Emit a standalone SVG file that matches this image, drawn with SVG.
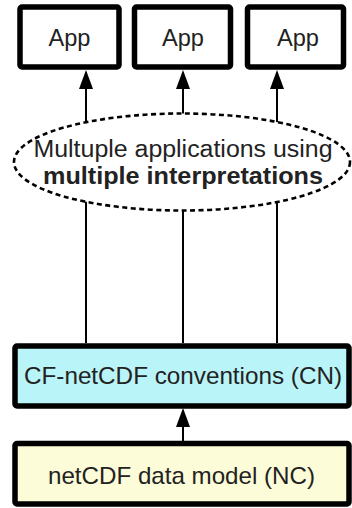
<svg xmlns="http://www.w3.org/2000/svg" width="352" height="508" viewBox="0 0 352 508">
  <defs>
    <marker id="arrow" markerUnits="userSpaceOnUse" markerWidth="19" markerHeight="14" refX="9" refY="7" orient="auto">
      <path d="M0,0 L19,7 L0,14 z" fill="#000"/>
    </marker>
    <style>
      .box { stroke: #000; stroke-width: 5.5; stroke-linejoin: round; }
      .app { fill: #fff; }
      .cn { fill: #b9f4f8; }
      .nc { fill: #fdfcd8; }
      .label { font-family: "Liberation Sans", Arial, sans-serif; font-size: 24px; fill: #222; text-anchor: middle; }
      .note-text { font-size: 23px; }
      .bold { font-weight: bold; }
      .link { fill: none; stroke: #000; stroke-width: 2; }
      .note { fill: #fff; stroke: #000; stroke-width: 2.6; stroke-dasharray: 5 3.5; }
    </style>
  </defs>

  <!-- connectors: conventions layer up to each application, data model up to conventions -->
  <g id="connectors">
    <path class="link" d="M86,343 L86,80" marker-end="url(#arrow)"/>
    <path class="link" d="M183,343 L183,80" marker-end="url(#arrow)"/>
    <path class="link" d="M277,343 L277,80" marker-end="url(#arrow)"/>
    <path class="link" d="M183,441 L183,418" marker-end="url(#arrow)"/>
  </g>

  <g id="app1">
    <rect class="box app" x="20" y="7" width="99" height="60" rx="2"/>
    <text class="label" x="69.5" y="45.7" textLength="42" lengthAdjust="spacingAndGlyphs">App</text>
  </g>
  <g id="app2">
    <rect class="box app" x="134.5" y="7" width="96" height="60" rx="2"/>
    <text class="label" x="183" y="45.7" textLength="42" lengthAdjust="spacingAndGlyphs">App</text>
  </g>
  <g id="app3">
    <rect class="box app" x="247.5" y="7" width="96" height="60" rx="2"/>
    <text class="label" x="298" y="45.7" textLength="42" lengthAdjust="spacingAndGlyphs">App</text>
  </g>

  <g id="interpretations">
    <ellipse class="note" cx="182" cy="162" rx="168" ry="48.5"/>
    <text class="label note-text" x="183" y="157.3" textLength="299" lengthAdjust="spacingAndGlyphs">Multuple applications using</text>
    <text class="label note-text bold" x="183" y="183.5" textLength="280" lengthAdjust="spacingAndGlyphs">multiple interpretations</text>
  </g>

  <g id="cf-conventions">
    <rect class="box cn" x="15" y="346" width="334" height="60" rx="2"/>
    <text class="label" x="183" y="384.3" textLength="318" lengthAdjust="spacingAndGlyphs">CF-netCDF conventions (CN)</text>
  </g>

  <g id="netcdf-model">
    <rect class="box nc" x="15" y="443.5" width="334" height="60.5" rx="2"/>
    <text class="label" x="181.5" y="484.3" textLength="267" lengthAdjust="spacingAndGlyphs">netCDF data model (NC)</text>
  </g>
</svg>
